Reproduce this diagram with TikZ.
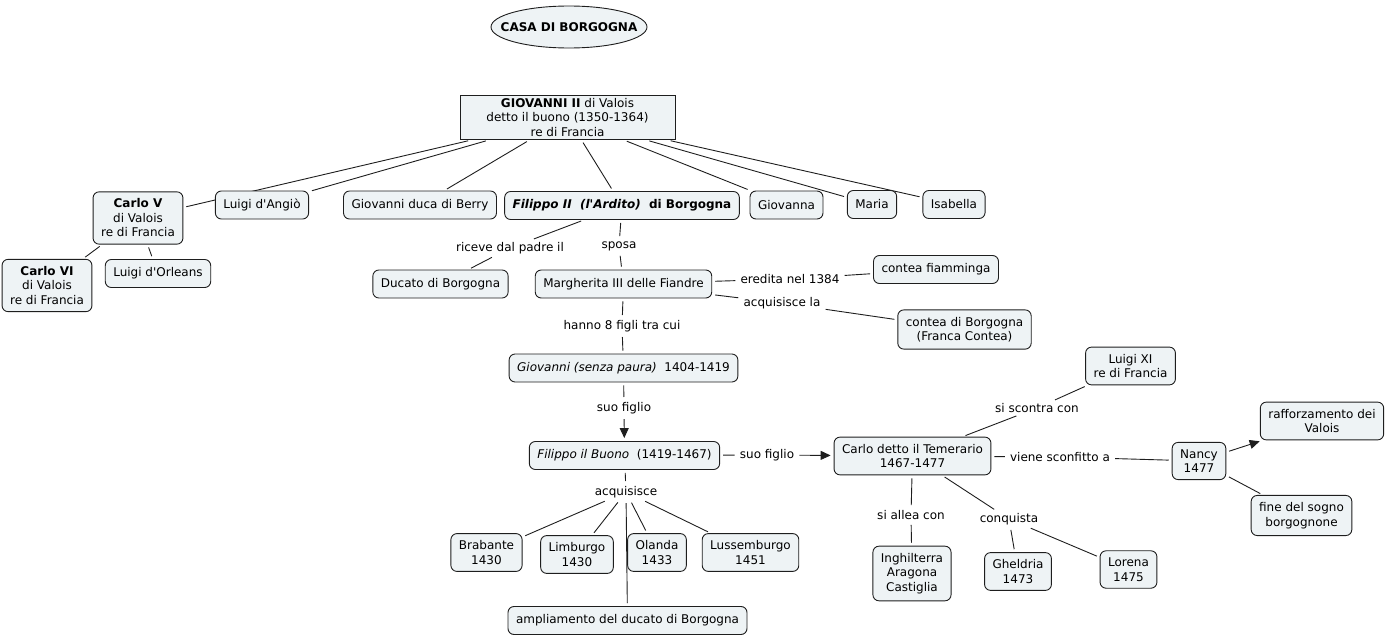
\documentclass[tikz,border=0pt]{standalone}
\usepackage{fontspec}
\setmainfont{DejaVu Sans}
\usetikzlibrary{positioning, shapes.geometric, arrows.meta, backgrounds}

\definecolor{conceptfill}{RGB}{238,243,245}
\definecolor{linegray}{RGB}{30,30,30}
\newcommand{\cmapfont}{\fontsize{12}{14.5}\selectfont}
\newcommand{\apo}{\textquotesingle}

\tikzset{
  concept/.style={draw=linegray, line width=0.9pt, fill=conceptfill, rounded corners=6pt, align=center,
    inner xsep=8pt, inner ysep=7pt, minimum height=28pt, font=\cmapfont},
  topic/.style={concept, ellipse, rounded corners=0pt, inner sep=0pt,
    minimum width=156pt, minimum height=42pt},
  linkword/.style={inner sep=2pt, align=center, font=\cmapfont},
  link/.style={draw=linegray, line width=0.9pt, shorten <=3pt, shorten >=3pt},
  tolink/.style={link, -{Triangle[length=10pt,width=9pt]}}
}

\begin{document}
\begin{tikzpicture}[x=1pt, y=-1pt]
  \useasboundingbox (0,0) rectangle (1385,637);

  % title and root
  \node[topic] (casa) at (569,27) {\makebox[0pt]{\textbf{CASA DI BORGOGNA}}};
  \node[concept, rounded corners=0pt, inner ysep=3pt, minimum width=215pt] (giovanni) at (567.5,117.5)
    {\textbf{GIOVANNI II} di Valois\\detto il buono (1350-1364)\\re di Francia};

  % children of Giovanni II
  \node[concept] (carloV) at (138,218) {\textbf{Carlo V}\\di Valois\\re di Francia};
  \node[concept] (carloVI) at (47,285.5) {\textbf{Carlo VI}\\di Valois\\re di Francia};
  \node[concept] (luigiO) at (158,273.5) {Luigi d\apo Orleans};
  \node[concept] (luigiA) at (262,205) {Luigi d\apo Angiò};
  \node[concept] (berry) at (420,205) {Giovanni duca di Berry};
  \node[concept] (filippoII) at (622,205.5)
    {\textbf{\textit{Filippo II\ \ (l\apo Ardito)}\ \ di Borgogna}};
  \node[concept] (giovanna) at (786.5,205) {Giovanna};
  \node[concept] (maria) at (872,204.5) {Maria};
  \node[concept] (isabella) at (954,204.5) {Isabella};

  % Filippo II
  \node[linkword] (riceve) at (510,248) {riceve dal padre il};
  \node[linkword] (sposa) at (619,246) {sposa};
  \node[concept] (ducato) at (440.5,284) {Ducato di Borgogna};
  \node[concept] (margherita) at (623.5,284) {Margherita III delle Fiandre};
  \node[linkword] (eredita) at (790,279) {eredita nel 1384};
  \node[linkword] (acqla) at (782,303) {acquisisce la};
  \node[concept] (fiamminga) at (936,269.5) {contea fiamminga};
  \node[concept] (franca) at (964.5,329.5) {contea di Borgogna\\(Franca Contea)};
  \node[linkword] (figli) at (622,326) {hanno 8 figli tra cui};
  \node[concept] (senzapaura) at (623.5,368) {\textit{Giovanni (senza paura)}\ \ 1404-1419};
  \node[linkword] (figlioA) at (624,408) {suo figlio};
  \node[concept] (buono) at (624.5,455.5) {\textit{Filippo il Buono}\ \ (1419-1467)};

  % Filippo il Buono
  \node[linkword] (acquisisce) at (626,492) {acquisisce};
  \node[concept] (brabante) at (486.5,552.5) {Brabante\\1430};
  \node[concept] (limburgo) at (577,554.5) {Limburgo\\1430};
  \node[concept] (olanda) at (657,552.5) {Olanda\\1433};
  \node[concept] (lussemburgo) at (750.5,552.5) {Lussemburgo\\1451};
  \node[concept] (ampliamento) at (627.5,620.5) {ampliamento del ducato di Borgogna};
  \node[linkword] (figlioB) at (767,455) {suo figlio};

  % Carlo il Temerario
  \node[concept] (temerario) at (912.5,456) {Carlo detto il Temerario\\1467-1477};
  \node[linkword] (scontra) at (1037,408) {si scontra con};
  \node[concept] (luigiXI) at (1130.5,366) {Luigi XI\\re di Francia};
  \node[linkword] (sconfitto) at (1060,457) {viene sconfitto a};
  \node[concept] (nancy) at (1199,461) {Nancy\\1477};
  \node[concept] (valois) at (1322,421) {rafforzamento dei\\Valois};
  \node[concept] (sogno) at (1301.5,515.5) {fine del sogno\\borgognone};
  \node[linkword] (allea) at (911,515) {si allea con};
  \node[concept] (inghilterra) at (912,573.5) {Inghilterra\\Aragona\\Castiglia};
  \node[linkword] (conquista) at (1009,519) {conquista};
  \node[concept] (gheldria) at (1018,571.5) {Gheldria\\1473};
  \node[concept] (lorena) at (1128.5,569.5) {Lorena\\1475};

  \begin{scope}[on background layer]
    \foreach \n in {carloV, luigiA, berry, filippoII, giovanna, maria, isabella}
      \draw[link] (giovanni) -- (\n);
    \draw[link] (carloV) -- (carloVI);
    \draw[link] (carloV) -- (luigiO);
    \draw[link] (filippoII) -- (riceve);
    \draw[link] (riceve) -- (ducato);
    \draw[link] (filippoII) -- (sposa);
    \draw[link] (sposa) -- (margherita);
    \draw[link] (margherita) -- (eredita);
    \draw[link] (eredita) -- (fiamminga);
    \draw[link] (margherita) -- (acqla);
    \draw[link] (acqla) -- (franca);
    \draw[link] (margherita) -- (figli);
    \draw[link] (figli) -- (senzapaura);
    \draw[link] (senzapaura) -- (figlioA);
    \draw[tolink] (figlioA) -- (buono);
    \draw[link] (buono) -- (figlioB);
    \draw[tolink] (figlioB) -- (temerario);
    \draw[link] (buono) -- (acquisisce);
    \foreach \n in {brabante, limburgo, olanda, lussemburgo, ampliamento}
      \draw[link] (acquisisce) -- (\n);
    \draw[link] (temerario) -- (scontra);
    \draw[link] (scontra) -- (luigiXI);
    \draw[link] (temerario) -- (sconfitto);
    \draw[link] (sconfitto) -- (nancy);
    \draw[tolink] (nancy) -- (valois);
    \draw[link] (nancy) -- (sogno);
    \draw[link] (temerario) -- (allea);
    \draw[link] (allea) -- (inghilterra);
    \draw[link] (temerario) -- (conquista);
    \draw[link] (conquista) -- (gheldria);
    \draw[link] (conquista) -- (lorena);
  \end{scope}
\end{tikzpicture}
\end{document}
